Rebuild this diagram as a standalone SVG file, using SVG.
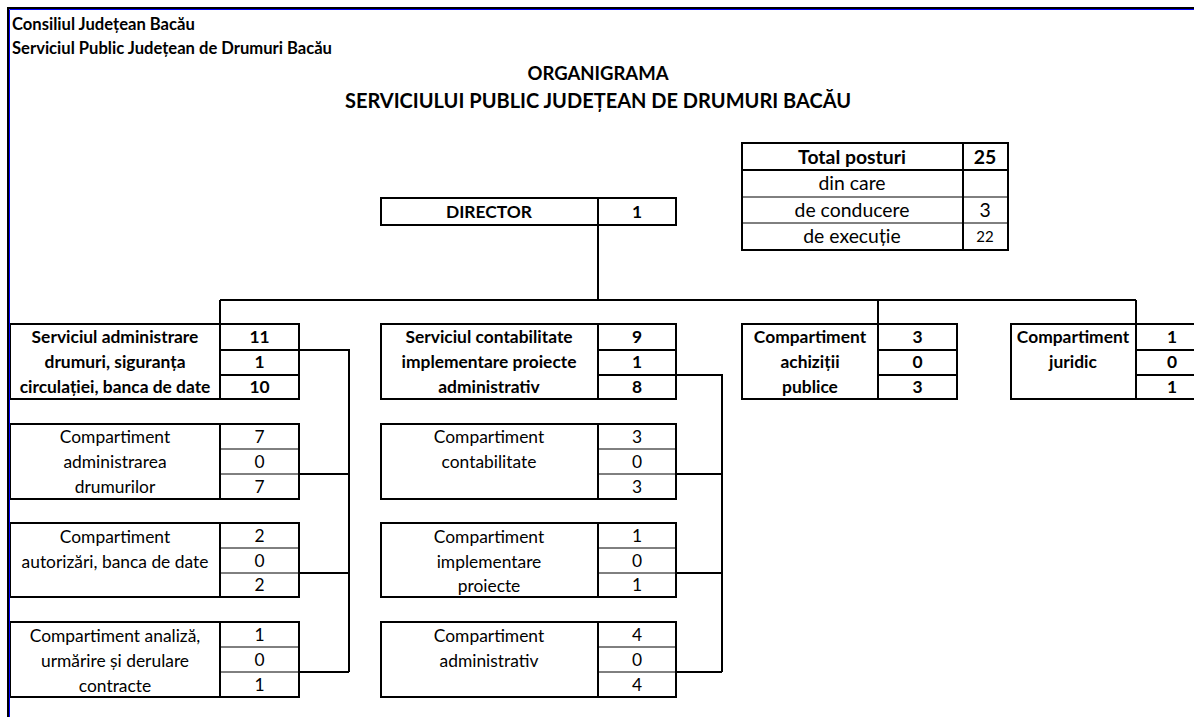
<svg xmlns="http://www.w3.org/2000/svg" width="1194" height="717" viewBox="0 0 1194 717">
<style>
text{font-family:Lato,"Liberation Sans",sans-serif;fill:#000;text-anchor:middle}
.b{font-weight:bold}
.h{font-size:16.6px;font-weight:bold;text-anchor:start}
.t{font-weight:bold}
.l{font-size:17.4px}
.g{font-size:19.4px}
.box{fill:none;stroke:#000;stroke-width:2}
.thin{stroke:#000;stroke-width:1;fill:none}
.th{stroke:#000;stroke-width:2;fill:none}
.con{stroke:#000;stroke-width:2;fill:none}
</style>
<rect width="1194" height="717" fill="#fff"/>
<g id="header">
<text class="h" x="12" y="30">Consiliul Județean Bacău</text>
<text class="h" x="12" y="54">Serviciul Public Județean de Drumuri Bacău</text>
</g>
<g id="title">
<text class="t" x="598" y="80" style="font-size:18.5px">ORGANIGRAMA</text>
<text class="t" x="598" y="108" style="font-size:20px">SERVICIULUI PUBLIC JUDEȚEAN DE DRUMURI BACĂU</text>
</g>
<g id="total">
<rect class="box" x="742" y="143" width="266" height="107"/>
<path class="th" d="M742 170H1008M963 143V250"/>
<path class="thin" d="M742 197H1008M742 223H1008"/>
<text class="g b" x="852" y="164">Total posturi</text>
<text class="g b" x="985" y="164">25</text>
<text class="g" x="852" y="190">din care</text>
<text class="g" x="852" y="217">de conducere</text>
<text class="g" x="985" y="217">3</text>
<text class="g" x="852" y="243">de execuție</text>
<text class="l" x="985" y="242" style="font-size:15px">22</text>
</g>
<g id="director">
<rect class="box" x="381" y="198" width="295" height="27"/>
<path class="th" d="M598 198V225"/>
<text class="l b" x="489" y="218">DIRECTOR</text>
<text class="l b" x="637" y="218">1</text>
</g>
<g id="connectors">
<path class="con" d="M598 225V300M220 300H1136M220 300V324M878 300V324M1136 300V324"/>
<path class="con" d="M299 350H349V672M299 474H349M299 573H349M299 672H349"/>
<path class="con" d="M676 375H722V672M676 474H722M676 573H722M676 672H722"/>
</g>
<g id="svc-drumuri">
<rect class="box" x="10" y="324" width="289" height="75"/>
<path class="th" d="M220 324V399M220 350H299M220 375H299"/>
<text class="l b" x="115" y="343">Serviciul administrare</text>
<text class="l b" x="115" y="368">drumuri, siguranța</text>
<text class="l b" x="115" y="393">circulației, banca de date</text>
<text class="l b" x="259.5" y="343">11</text>
<text class="l b" x="259.5" y="368">1</text>
<text class="l b" x="259.5" y="393">10</text>
</g>
<g id="svc-contabilitate">
<rect class="box" x="381" y="324" width="295" height="75"/>
<path class="th" d="M598 324V399M598 350H676M598 375H676"/>
<text class="l b" x="489" y="343">Serviciul contabilitate</text>
<text class="l b" x="489" y="368">implementare proiecte</text>
<text class="l b" x="489" y="393">administrativ</text>
<text class="l b" x="637" y="343">9</text>
<text class="l b" x="637" y="368">1</text>
<text class="l b" x="637" y="393">8</text>
</g>
<g id="achizitii">
<rect class="box" x="742" y="324" width="215" height="75"/>
<path class="th" d="M878 324V399M878 350H957M878 375H957"/>
<text class="l b" x="810" y="343">Compartiment</text>
<text class="l b" x="810" y="368">achiziții</text>
<text class="l b" x="810" y="393">publice</text>
<text class="l b" x="917.5" y="343">3</text>
<text class="l b" x="917.5" y="368">0</text>
<text class="l b" x="917.5" y="393">3</text>
</g>
<g id="juridic">
<path class="box" d="M1196 324H1011V399H1196"/>
<path class="th" d="M1136 324V399M1136 350H1196M1136 375H1196"/>
<text class="l b" x="1073" y="343">Compartiment</text>
<text class="l b" x="1073" y="368">juridic</text>
<text class="l b" x="1172" y="343">1</text>
<text class="l b" x="1172" y="368">0</text>
<text class="l b" x="1172" y="393">1</text>
</g>
<g id="c-administrarea">
<rect class="box" x="10" y="424" width="289" height="75"/>
<path class="th" d="M220 424V499"/>
<path class="thin" d="M220 449H299M220 474H299"/>
<text class="l" x="115" y="443">Compartiment</text>
<text class="l" x="115" y="468">administrarea</text>
<text class="l" x="115" y="493">drumurilor</text>
<text class="l" x="259.5" y="443">7</text>
<text class="l" x="259.5" y="468">0</text>
<text class="l" x="259.5" y="493">7</text>
</g>
<g id="c-autorizari">
<rect class="box" x="10" y="523" width="289" height="74"/>
<path class="th" d="M220 523V597"/>
<path class="thin" d="M220 548H299M220 573H299"/>
<text class="l" x="115" y="543">Compartiment</text>
<text class="l" x="115" y="568">autorizări, banca de date</text>
<text class="l" x="259.5" y="542">2</text>
<text class="l" x="259.5" y="567">0</text>
<text class="l" x="259.5" y="591">2</text>
</g>
<g id="c-analiza">
<rect class="box" x="10" y="622" width="289" height="75"/>
<path class="th" d="M220 622V697"/>
<path class="thin" d="M220 647H299M220 672H299"/>
<text class="l" x="115" y="642">Compartiment analiză,</text>
<text class="l" x="115" y="667">urmărire și derulare</text>
<text class="l" x="115" y="692">contracte</text>
<text class="l" x="259.5" y="641">1</text>
<text class="l" x="259.5" y="666">0</text>
<text class="l" x="259.5" y="691">1</text>
</g>
<g id="c-contabilitate">
<rect class="box" x="381" y="424" width="295" height="75"/>
<path class="th" d="M598 424V499"/>
<path class="thin" d="M598 449H676M598 474H676"/>
<text class="l" x="489" y="443">Compartiment</text>
<text class="l" x="489" y="468">contabilitate</text>
<text class="l" x="637" y="443">3</text>
<text class="l" x="637" y="468">0</text>
<text class="l" x="637" y="493">3</text>
</g>
<g id="c-implementare">
<rect class="box" x="381" y="523" width="295" height="74"/>
<path class="th" d="M598 523V597"/>
<path class="thin" d="M598 548H676M598 573H676"/>
<text class="l" x="489" y="543">Compartiment</text>
<text class="l" x="489" y="568">implementare</text>
<text class="l" x="489" y="592">proiecte</text>
<text class="l" x="637" y="542">1</text>
<text class="l" x="637" y="567">0</text>
<text class="l" x="637" y="591">1</text>
</g>
<g id="c-administrativ">
<rect class="box" x="381" y="622" width="295" height="75"/>
<path class="th" d="M598 622V697"/>
<path class="thin" d="M598 647H676M598 672H676"/>
<text class="l" x="489" y="642">Compartiment</text>
<text class="l" x="489" y="667">administrativ</text>
<text class="l" x="637" y="641">4</text>
<text class="l" x="637" y="666">0</text>
<text class="l" x="637" y="691">4</text>
</g>
<g id="frame">
<path d="M8 717V8H1194" fill="none" stroke="#000" stroke-width="2"/>
<path d="M9.5 717V9.5H1194" fill="none" stroke="#0000ff" stroke-width="1"/>
</g>
</svg>
